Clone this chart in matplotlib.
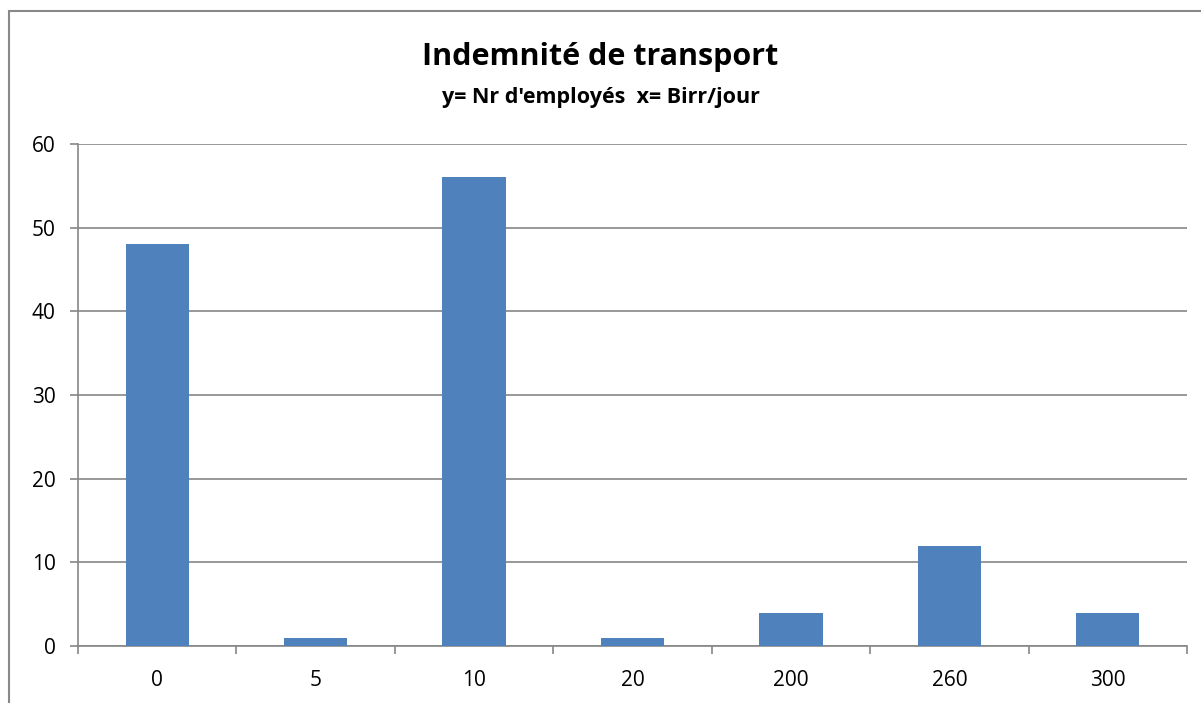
import matplotlib.pyplot as plt
from matplotlib.patches import Rectangle
import numpy as np

# Data
categories = ["0", "5", "10", "20", "200", "260", "300"]
employees = [48, 1, 56, 1, 4, 12, 4]
y_ticks = [0, 10, 20, 30, 40, 50, 60]

plt.rcParams['font.family'] = ['Open Sans', 'DejaVu Sans']

fig = plt.figure(figsize=(12.01, 7.03), dpi=100)
ax = fig.add_axes([78 / 1201, 57 / 703, (1187 - 78) / 1201, (646 - 144) / 703])

x = np.arange(len(categories))
ax.bar(x, employees, width=0.4, color="#4f81bd", zorder=3)

ax.set_xlim(-0.5, len(categories) - 0.5)
ax.set_ylim(0, 60)
ax.set_yticks(y_ticks)
ax.set_xticks(x)
ax.set_xticklabels(categories)
ax.set_xticks(np.arange(-0.5, len(categories)), minor=True)

ax.grid(axis="y", color="#868686", linewidth=1.2, zorder=0)
for side in ["top", "right"]:
    ax.spines[side].set_visible(False)
for side in ["left", "bottom"]:
    ax.spines[side].set_color("#868686")
    ax.spines[side].set_linewidth(1.2)

ax.tick_params(axis="y", length=6, width=1.2, color="#868686", pad=10, labelsize=15)
ax.tick_params(axis="x", which="major", length=0, pad=17, labelsize=15)
ax.tick_params(axis="x", which="minor", length=6, width=1.2, color="#868686")

fig.text(0.5, 1 - 57 / 703, "Indemnité de transport", ha="center", va="center",
         fontsize=22, fontweight="bold")
fig.text(0.5, 1 - 97 / 703, "y= Nr d'employés  x= Birr/jour", ha="center", va="center",
         fontsize=15.5, fontweight="bold")

# outer chart border (cut off at right and bottom)
fig.patches.append(Rectangle((9 / 1201, -0.1), 1.2, 1 - 11 / 703 + 0.1,
                             transform=fig.transFigure, fill=False,
                             edgecolor="#888888", linewidth=1.5))

fig.savefig("out.png", dpi=100)
